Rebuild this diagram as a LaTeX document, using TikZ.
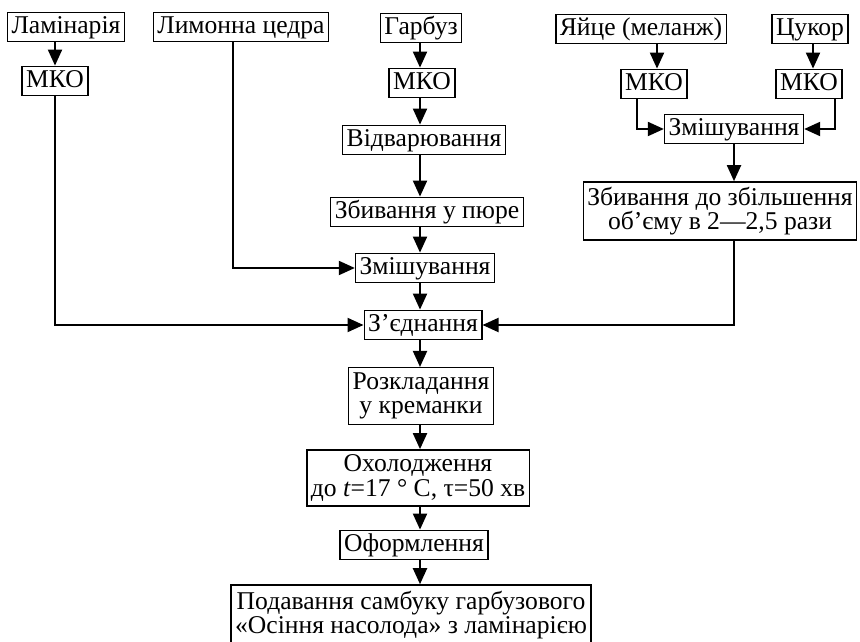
\documentclass[tikz,border=0pt]{standalone}
\usepackage{fontspec}
\setmainfont{Liberation Serif}
\usetikzlibrary{arrows.meta,positioning,calc}

\tikzset{
  stage/.style={draw, line width=0.7pt, align=center, inner xsep=2pt, inner ysep=1.5pt,
    text height=8.9pt, text depth=2.8pt, font=\fontsize{12.8}{12.2}\selectfont},
  stage2/.style={draw, line width=0.7pt, align=center, inner xsep=2pt, inner ysep=2.5pt,
    font=\fontsize{12.8}{12.2}\selectfont},
  arr/.style={-{Triangle[length=8pt,width=7pt]}, line width=1pt}
}

\begin{document}
\begin{tikzpicture}[x=0.5pt, y=-0.5pt]
    \useasboundingbox (0,0) rectangle (860,641);
    % raw materials
    \node[stage] (lam) at (66,27) {Ламінарія};
    \node[stage] (lemon) at (241,27) {Лимонна цедра};
    \node[stage] (pump) at (421,28) {Гарбуз};
    \node[stage] (egg) at (641,29) {Яйце (меланж)};
    \node[stage] (sugar) at (810,29) {Цукор};
    % sorting
    \node[stage] (mko1) at (55,81) {МКО};
    \node[stage] (mko2) at (422,83) {МКО};
    \node[stage] (mko3) at (654,84) {МКО};
    \node[stage] (mko4) at (809,84) {МКО};
    % pumpkin line
    \node[stage] (boil) at (424,140) {Відварювання};
    \node[stage] (puree) at (427,212) {Збивання у пюре};
    \node[stage] (mix1) at (425,268) {Змішування};
    % egg and sugar line
    \node[stage] (mix2) at (734,129) {Змішування};
    \node[stage2] (whip) at (720,211) {Збивання до збільшення\\об’єму в 2—2,5 рази};
    % main line
    \node[stage] (join) at (423,325) {З’єднання};
    \node[stage2] (lay) at (421,396) {Розкладання\\у креманки};
    \node[stage2] (cool) at (418,478) {Охолодження\\до \textit{t}=17 ° C, τ=50 хв};
    \node[stage] (deco) at (414,545) {Оформлення};
    \node[stage2, inner ysep=3pt] (serve) at (411,615) {Подавання самбуку гарбузового\\«Осіння насолода» з ламінарією};
    \coordinate (col) at (420,0);

    % connectors
    \draw[arr] (lam.south -| mko1.north) -- (mko1.north);
    \draw[arr] (egg.south -| 657,0) -- (mko3.north -| 657,0);
    \draw[arr] (sugar.south -| 813,0) -- (mko4.north -| 813,0);
    \foreach \a/\b in {pump/mko2, mko2/boil, boil/puree, puree/mix1, mix1/join,
                      join/lay, lay/cool, cool/deco, deco/serve}
      \draw[arr] (\a.south -| col) -- (\b.north -| col);
    \draw[arr] ([xshift=-8.5pt]mko3.south) |- (mix2.west);
    \draw[arr] ([xshift=13pt]mko4.south) |- (mix2.east);
    \draw[arr] (mix2.south) -- (mix2.south |- whip.north);
    \draw[arr] ([xshift=-4pt]lemon.south) |- (mix1.west);
    \draw[arr] (mko1.south) |- (join.west);
    \draw[arr] (mix2.south |- whip.south) |- (join.east);
  \end{tikzpicture}
\end{document}
